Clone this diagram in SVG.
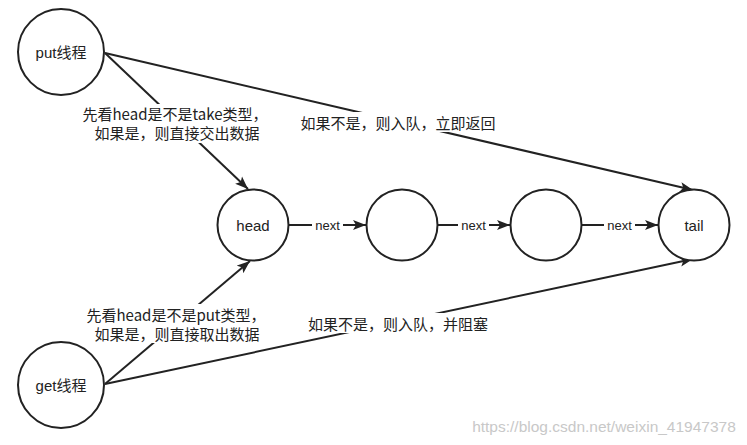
<svg xmlns="http://www.w3.org/2000/svg" width="747" height="445" viewBox="0 0 747 445">
<style>
.n{fill:#fff;stroke:#222;stroke-width:2}
.e{fill:none;stroke:#222;stroke-width:2;marker-end:url(#arr)}
.t{font-family:"Liberation Sans","Noto Sans CJK SC",sans-serif;font-size:15px;fill:#222;text-anchor:middle;dominant-baseline:central}
.c{font-family:"Noto Sans CJK SC","Liberation Sans",sans-serif;font-size:15px;fill:#222;text-anchor:middle;dominant-baseline:central}
.x{font-family:"Liberation Sans",sans-serif;font-size:13px;fill:#222;text-anchor:middle;dominant-baseline:central}
.bg{fill:#fff}
</style>
<defs>
<marker id="arr" markerUnits="userSpaceOnUse" markerWidth="14" markerHeight="12" refX="13" refY="6" orient="auto">
<path d="M0,1 L13,6 L0,11 L3,6 Z" fill="#222"/>
</marker>
</defs>
<rect width="747" height="445" fill="#fff"/>
<g id="connectors">
<line class="e" x1="105" y1="53" x2="248" y2="189"/>
<line class="e" x1="105" y1="53" x2="693" y2="190"/>
<line class="e" x1="105" y1="384" x2="250" y2="261"/>
<line class="e" x1="105" y1="384" x2="693" y2="259"/>
<line class="e" x1="289" y1="225" x2="366" y2="225"/>
<line class="e" x1="438" y1="225" x2="510" y2="225"/>
<line class="e" x1="582" y1="225" x2="658" y2="225"/>
<rect class="bg" x="80" y="104" width="190" height="39"/>
<text class="c" x="175" y="113">先看head是不是take类型，</text>
<text class="c" x="177" y="132">如果是，则直接交出数据</text>
<rect class="bg" x="84" y="304" width="184" height="39"/>
<text class="c" x="176" y="314">先看head是不是put类型，</text>
<text class="c" x="177" y="333">如果是，则直接取出数据</text>
<rect class="bg" x="297" y="112" width="202" height="20"/>
<text class="c" x="398" y="122">如果不是，则入队，立即返回</text>
<rect class="bg" x="304" y="313" width="189" height="20"/>
<text class="c" x="398" y="323">如果不是，则入队，并阻塞</text>
<rect class="bg" x="312" y="218" width="31" height="14"/>
<text class="x" x="327.5" y="225">next</text>
<rect class="bg" x="458" y="218" width="31" height="14"/>
<text class="x" x="473.5" y="225">next</text>
<rect class="bg" x="604" y="218" width="31" height="14"/>
<text class="x" x="619.5" y="225">next</text>
</g>
<g id="put"><circle class="n" cx="61" cy="52" r="43"/><text class="t" x="61" y="52">put线程</text></g>
<g id="get"><circle class="n" cx="61" cy="385" r="43"/><text class="t" x="61" y="385">get线程</text></g>
<g id="head"><circle class="n" cx="253" cy="225" r="35.5"/><text class="t" x="253" y="225">head</text></g>
<g id="node2"><circle class="n" cx="402" cy="225" r="35.5"/></g>
<g id="node3"><circle class="n" cx="546" cy="225" r="35.5"/></g>
<g id="tail"><circle class="n" cx="694" cy="225" r="35.5"/><text class="t" x="694" y="225">tail</text></g>
<text x="604" y="426" style="font-family:'Liberation Sans',sans-serif;font-size:15.5px;fill:#c8c8c8;text-anchor:middle;dominant-baseline:central">https://blog.csdn.net/weixin_41947378</text>
</svg>
